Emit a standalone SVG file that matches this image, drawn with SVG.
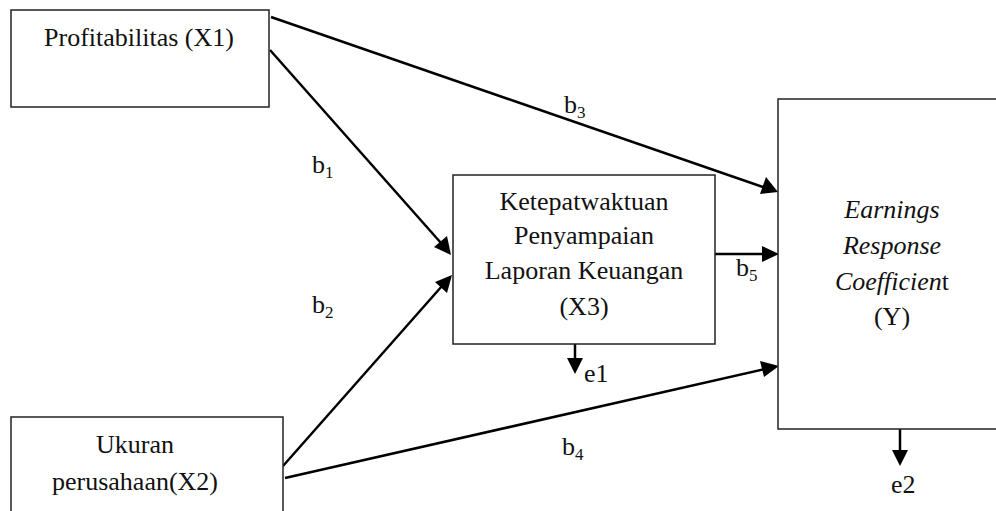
<svg xmlns="http://www.w3.org/2000/svg" width="996" height="511" viewBox="0 0 996 511">
<defs>
<style>
.box{fill:#fff;stroke:#222;stroke-width:1.5}
.t{font-family:"Liberation Serif","Times New Roman",serif;font-size:26px;fill:#111;text-anchor:middle}
.l{font-family:"Liberation Serif","Times New Roman",serif;font-size:26px;fill:#111}
.sub{font-size:17px}
.c{stroke:#000;stroke-width:2.5;fill:none}
</style>
</defs>
<rect width="996" height="511" fill="#fff"/>
<g id="connectors">
<line class="c" x1="271" y1="17" x2="766" y2="188"/>
<path d="M778,192 L760,194 L766,177 Z" fill="#000"/>
<line class="c" x1="270" y1="50" x2="441" y2="243"/>
<path d="M451,255 L434,247 L447,236 Z" fill="#000"/>
<line class="c" x1="283" y1="466" x2="442" y2="286"/>
<path d="M452,275 L447,293 L435,282 Z" fill="#000"/>
<line class="c" x1="285" y1="478" x2="765" y2="369"/>
<path d="M779,366 L764,377 L760,361 Z" fill="#000"/>
<line class="c" x1="715" y1="254" x2="765" y2="254"/>
<path d="M779,254 L762,246 L762,262 Z" fill="#000"/>
<line class="c" x1="575" y1="344" x2="575" y2="360"/>
<path d="M575,374 L567,358 L583,358 Z" fill="#000"/>
<line class="c" x1="900" y1="429" x2="900" y2="452"/>
<path d="M900,466 L892,450 L908,450 Z" fill="#000"/>
</g>
<g id="labels">
<text class="l" x="564" y="113">b<tspan class="sub" dy="5">3</tspan></text>
<text class="l" x="312" y="173">b<tspan class="sub" dy="5">1</tspan></text>
<text class="l" x="312" y="313">b<tspan class="sub" dy="5">2</tspan></text>
<text class="l" x="736" y="276">b<tspan class="sub" dy="5">5</tspan></text>
<text class="l" x="562" y="455">b<tspan class="sub" dy="5">4</tspan></text>
<text class="l" x="584" y="382">e1</text>
<text class="l" x="891" y="493">e2</text>
</g>
<g id="x1">
<rect class="box" x="11" y="10" width="258" height="97"/>
<text class="t" x="139" y="46">Profitabilitas (X1)</text>
</g>
<g id="x2">
<rect class="box" x="11" y="417" width="272" height="110"/>
<text class="t" x="135" y="453">Ukuran</text>
<text class="t" x="135" y="490">perusahaan(X2)</text>
</g>
<g id="x3">
<rect class="box" x="453" y="175" width="262" height="169"/>
<text class="t" x="584" y="210">Ketepatwaktuan</text>
<text class="t" x="584" y="244">Penyampaian</text>
<text class="t" x="584" y="279">Laporan Keuangan</text>
<text class="t" x="584" y="315">(X3)</text>
</g>
<g id="y">
<rect class="box" x="778" y="99" width="240" height="330"/>
<text class="t" x="892" y="218" font-style="italic">Earnings</text>
<text class="t" x="892" y="254" font-style="italic">Response</text>
<text class="t" x="892" y="290"><tspan font-style="italic">Coefficien</tspan>t</text>
<text class="t" x="892" y="325">(Y)</text>
</g>
</svg>
